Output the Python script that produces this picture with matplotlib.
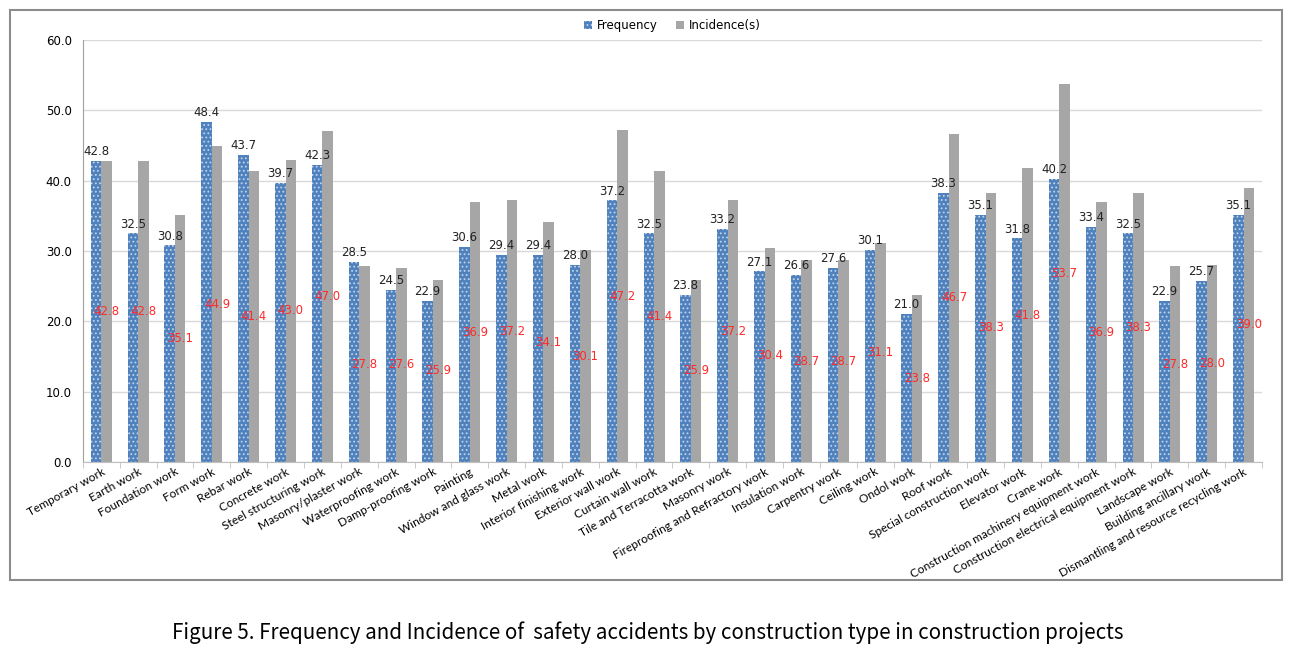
import matplotlib.pyplot as plt
import numpy as np
from matplotlib.patches import Rectangle

categories = [
    "Temporary work", "Earth work", "Foundation work", "Form work", "Rebar work",
    "Concrete work", "Steel structuring work", "Masonry/plaster work",
    "Waterproofing work", "Damp-proofing work", "Painting", "Window and glass work",
    "Metal work", "Interior finishing work", "Exterior wall work", "Curtain wall work",
    "Tile and Terracotta work", "Masonry work", "Fireproofing and Refractory work",
    "Insulation work", "Carpentry work", "Ceiling work", "Ondol work", "Roof work",
    "Special construction work", "Elevator work", "Crane work",
    "Construction machinery equipment work", "Construction electrical equipment work",
    "Landscape work", "Building ancillary work", "Dismantling and resource recycling work",
]
frequency = [42.8, 32.5, 30.8, 48.4, 43.7, 39.7, 42.3, 28.5, 24.5, 22.9, 30.6, 29.4,
             29.4, 28.0, 37.2, 32.5, 23.8, 33.2, 27.1, 26.6, 27.6, 30.1, 21.0, 38.3,
             35.1, 31.8, 40.2, 33.4, 32.5, 22.9, 25.7, 35.1]
incidence = [42.8, 42.8, 35.1, 44.9, 41.4, 43.0, 47.0, 27.8, 27.6, 25.9, 36.9, 37.2,
             34.1, 30.1, 47.2, 41.4, 25.9, 37.2, 30.4, 28.7, 28.7, 31.1, 23.8, 46.7,
             38.3, 41.8, 53.7, 36.9, 38.3, 27.8, 28.0, 39.0]

BLUE = "#4F81BD"
GREY = "#A6A6A6"
plt.rcParams["hatch.color"] = "#BFD2EC"
plt.rcParams["hatch.linewidth"] = 0.8

fig = plt.figure(figsize=(12.95, 6.54), dpi=100)
ax = fig.add_axes([0.064, 0.2936, 0.9105, 0.6452])

x = np.arange(len(categories))
w = 0.285
ax.bar(x - w / 2, frequency, w, color=BLUE, hatch="....", linewidth=0,
       label="Frequency")
ax.bar(x + w / 2, incidence, w, color=GREY, linewidth=0, label="Incidence(s)")

# frequency labels sit on top of the blue bars, incidence labels at mid-height
for xi, f in zip(x, frequency):
    ax.text(xi - w / 2, f + 0.4, f"{f:.1f}", ha="center", va="bottom",
            fontsize=8.5, color="#222222")
for xi, v in zip(x, incidence):
    ax.text(xi + w / 2, v / 2, f"{v:.1f}", ha="center", va="center",
            fontsize=8.5, color="#FF2A2A")

ax.set_xlim(-0.5, len(categories) - 0.5)
ax.set_ylim(0, 60)
ax.set_yticks(np.arange(0, 61, 10))
ax.set_yticklabels([f"{t:.1f}" for t in np.arange(0, 61, 10)], fontsize=8.5)
ax.yaxis.grid(True, color="#D9D9D9", linewidth=1)
ax.set_axisbelow(True)
ax.tick_params(axis="y", length=0, pad=8)

ax.set_xticks(x)
ax.set_xticklabels(categories, rotation=29, ha="right", rotation_mode="anchor",
                   fontsize=8.6, family=["Lato", "DejaVu Sans"])
ax.tick_params(axis="x", length=0, pad=3)
ax.set_xticks(np.arange(-0.5, len(categories), 1), minor=True)
ax.tick_params(axis="x", which="minor", length=4, color="#BFBFBF")

for s in ["top", "right"]:
    ax.spines[s].set_visible(False)
ax.spines["left"].set_color("#A0A0A0")
ax.spines["bottom"].set_color("#BFBFBF")

ax.legend(loc="upper center", bbox_to_anchor=(0.5, 1.075), ncol=2, frameon=False,
          fontsize=8.5, handlelength=0.7, handleheight=0.7, columnspacing=1.5,
          handletextpad=0.4)

fig.patches.append(Rectangle((10 / 1295, 1 - 580 / 654), 1272 / 1295, 570 / 654,
                             transform=fig.transFigure, fill=False,
                             edgecolor="#8C8C8C", linewidth=1.5))

fig.text(0.5, 1 - 633 / 654,
         "Figure 5. Frequency and Incidence of  safety accidents by construction type in construction projects",
         ha="center", va="center", fontsize=14.8, family=["Noto Sans CJK KR", "DejaVu Sans"])

fig.savefig("out.png", dpi=100)
